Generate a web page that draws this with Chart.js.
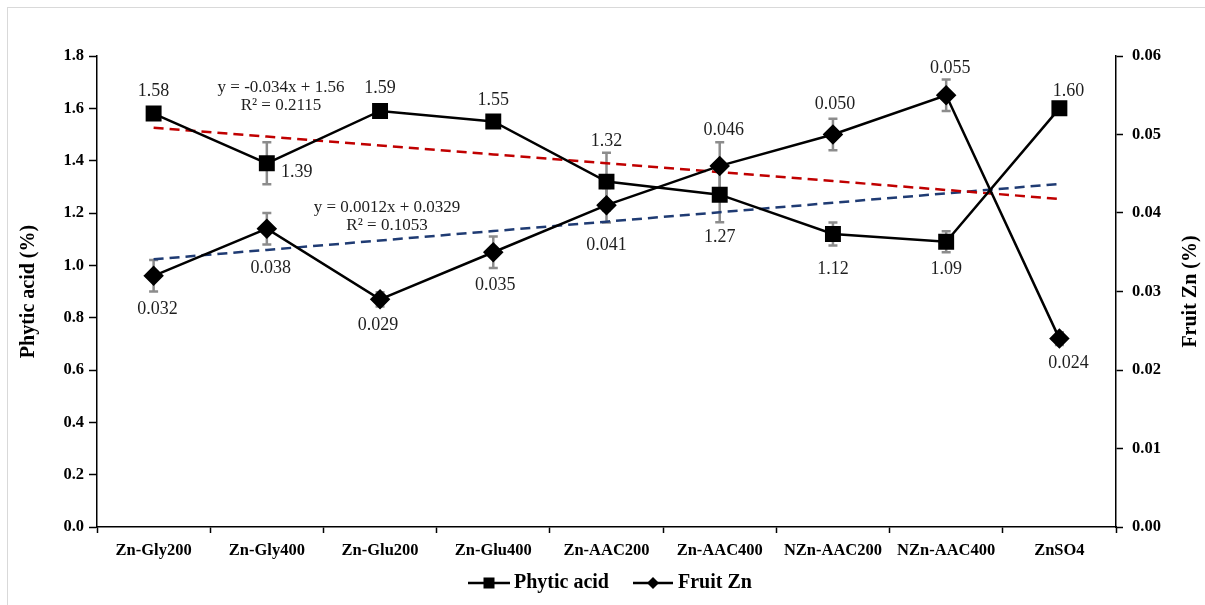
<!DOCTYPE html>
<html>
<head>
<meta charset="utf-8">
<script src="https://cdn.jsdelivr.net/npm/chart.js@4.4.1/dist/chart.umd.min.js"></script>
<style>
  html, body { margin: 0; padding: 0; background: #fff; }
  #wrap { position: relative; width: 1205px; height: 605px; }
</style>
</head>
<body>
<div id="wrap"><canvas id="c" width="1205" height="605"></canvas></div>
<script>
// Treatments on the category axis
const treatments = ['Zn-Gly200', 'Zn-Gly400', 'Zn-Glu200', 'Zn-Glu400', 'Zn-AAC200', 'Zn-AAC400', 'NZn-AAC200', 'NZn-AAC400', 'ZnSO4'];

// Phytic acid (%) and its standard errors
const phyticAcid = [1.58, 1.39, 1.59, 1.55, 1.32, 1.27, 1.12, 1.09, 1.60];
const phyticErr  = [0.02, 0.08, 0.02, 0.012, 0.11, 0.105, 0.044, 0.04, 0.0];

// Fruit Zn (%) and its standard errors
const fruitZn    = [0.032, 0.038, 0.029, 0.035, 0.041, 0.046, 0.050, 0.055, 0.024];
const fruitZnErr = [0.002, 0.002, 0.0009, 0.002, 0.0022, 0.003, 0.002, 0.002, 0.0008];

// Linear trend lines (slope, intercept) as printed on the chart
const phyticTrend = [-0.034, 1.56];
const znTrend     = [0.0012, 0.0329];

// Axis tick ranges
const leftTicks  = { min: 0, max: 1.8, step: 0.2, digits: 1 };
const rightTicks = { min: 0, max: 0.06, step: 0.01, digits: 2 };

const SERIF = "'Liberation Serif', 'Times New Roman', serif";

const trendValues = (t) => treatments.map((_, i) => t[0] * (i + 1) + t[1]);

// Label placement (dx, dy in px from the point)
const phyticLabelPos = [[0,-22],[30,9],[0,-23],[0,-21],[0,-40],[0,43],[0,35],[0,27],[9,-17]];
const znLabelPos     = [[4,33],[4,40],[-2,26],[2,33],[0,40],[4,-36],[2,-30],[4,-27],[9,25]];

const errorBars = {
  id: 'errorBars',
  beforeDatasetsDraw(chart) {
    const ctx = chart.ctx;
    const sets = [[0, phyticAcid, phyticErr, 'y'], [1, fruitZn, fruitZnErr, 'y1']];
    ctx.save();
    ctx.strokeStyle = '#8c8c8c';
    ctx.lineWidth = 2.5;
    sets.forEach(([di, vals, errs, axis]) => {
      const meta = chart.getDatasetMeta(di);
      const sc = chart.scales[axis];
      meta.data.forEach((pt, i) => {
        if (!errs[i]) return;
        const yt = sc.getPixelForValue(vals[i] + errs[i]);
        const yb = sc.getPixelForValue(vals[i] - errs[i]);
        ctx.beginPath();
        ctx.moveTo(pt.x, yt); ctx.lineTo(pt.x, yb);
        ctx.moveTo(pt.x - 4.5, yt); ctx.lineTo(pt.x + 4.5, yt);
        ctx.moveTo(pt.x - 4.5, yb); ctx.lineTo(pt.x + 4.5, yb);
        ctx.stroke();
      });
    });
    ctx.restore();
  }
};

const annotations = {
  id: 'annotations',
  afterDraw(chart) {
    const ctx = chart.ctx;
    const area = chart.chartArea;
    ctx.save();
    // outer frame
    ctx.strokeStyle = '#d9d9d9';
    ctx.lineWidth = 1;
    ctx.strokeRect(7.5, 7.5, 1300, 700);

    // data labels
    ctx.fillStyle = '#1e1e1e';
    ctx.font = '18px ' + SERIF;
    ctx.textAlign = 'center';
    ctx.textBaseline = 'middle';
    const m0 = chart.getDatasetMeta(0).data;
    const m1 = chart.getDatasetMeta(1).data;
    phyticAcid.forEach((v, i) => {
      const p = m0[i];
      ctx.fillText(v.toFixed(2), p.x + phyticLabelPos[i][0], p.y + phyticLabelPos[i][1]);
    });
    fruitZn.forEach((v, i) => {
      const p = m1[i];
      ctx.fillText(v.toFixed(3), p.x + znLabelPos[i][0], p.y + znLabelPos[i][1]);
    });

    // trend equations
    ctx.font = '17px ' + SERIF;
    ctx.fillText('y = ' + phyticTrend[0] + 'x + ' + phyticTrend[1].toFixed(2), 281, 88);
    ctx.fillText('R\u00B2 = 0.2115', 281, 106);
    ctx.fillText('y = ' + znTrend[0] + 'x + ' + znTrend[1], 387, 208);
    ctx.fillText('R\u00B2 = 0.1053', 387, 226);

    // axis titles
    ctx.fillStyle = '#000';
    ctx.font = 'bold 20px ' + SERIF;
    const cy = (area.top + area.bottom) / 2;
    ctx.save();
    ctx.translate(29, cy);
    ctx.rotate(-Math.PI / 2);
    ctx.fillText('Phytic acid (%)', 0, 0);
    ctx.restore();
    ctx.save();
    ctx.translate(1191, cy);
    ctx.rotate(-Math.PI / 2);
    ctx.fillText('Fruit Zn (%)', 0, 0);
    ctx.restore();

    // legend
    const ly = 583;
    ctx.textAlign = 'left';
    ctx.strokeStyle = '#000';
    ctx.lineWidth = 2.5;
    ctx.beginPath(); ctx.moveTo(468, ly); ctx.lineTo(510, ly); ctx.stroke();
    ctx.fillRect(483.5, ly - 5.5, 11, 11);
    ctx.fillText('Phytic acid', 514, ly);
    ctx.beginPath(); ctx.moveTo(633, ly); ctx.lineTo(673, ly); ctx.stroke();
    ctx.beginPath();
    ctx.moveTo(653, ly - 6); ctx.lineTo(659, ly); ctx.lineTo(653, ly + 6); ctx.lineTo(647, ly);
    ctx.closePath(); ctx.fill();
    ctx.fillText('Fruit Zn', 678, ly);
    ctx.restore();
  }
};

const tickFont = { family: SERIF, size: 16.5, weight: 'bold' };

new Chart(document.getElementById('c'), {
  type: 'line',
  data: {
    labels: treatments,
    datasets: [
      {
        label: 'Phytic acid', data: phyticAcid, yAxisID: 'y', order: 1,
        borderColor: '#000', backgroundColor: '#000', borderWidth: 2.5,
        pointStyle: 'rect', pointRadius: 9.5, pointHoverRadius: 9.5, tension: 0
      },
      {
        label: 'Fruit Zn', data: fruitZn, yAxisID: 'y1', order: 0,
        borderColor: '#000', backgroundColor: '#000', borderWidth: 2.5,
        pointStyle: 'rectRot', pointRadius: 8.5, pointHoverRadius: 8.5, tension: 0
      },
      {
        label: 'Phytic acid trend', data: trendValues(phyticTrend), yAxisID: 'y', order: 2,
        borderColor: '#c00000', borderWidth: 2.5, borderDash: [10, 6],
        pointRadius: 0, tension: 0
      },
      {
        label: 'Fruit Zn trend', data: trendValues(znTrend), yAxisID: 'y1', order: 3,
        borderColor: '#1f3b73', borderWidth: 2.5, borderDash: [10, 6],
        pointRadius: 0, tension: 0
      }
    ]
  },
  options: {
    responsive: false,
    animation: false,
    events: [],
    layout: { padding: { top: 56, left: 0, right: 0, bottom: 0 } },
    plugins: { legend: { display: false }, tooltip: { enabled: false } },
    scales: {
      x: {
        offset: true,
        grid: { offset: true, drawOnChartArea: false, tickLength: 6, tickColor: '#000', tickWidth: 1.5 },
        border: { color: '#000', width: 1.5 },
        ticks: { font: tickFont, color: '#000', autoSkip: false, maxRotation: 0, minRotation: 0, padding: 8 },
        afterFit(s) { s.height = 78; }
      },
      y: {
        position: 'left', min: leftTicks.min, max: leftTicks.max,
        grid: { drawOnChartArea: false, tickLength: 8, tickColor: '#000', tickWidth: 1.5 },
        border: { color: '#000', width: 1.5 },
        ticks: { stepSize: leftTicks.step, font: tickFont, color: '#000', padding: 5,
                 callback: (v) => Number(v).toFixed(leftTicks.digits) },
        afterFit(s) { s.width = 97; }
      },
      y1: {
        position: 'right', min: rightTicks.min, max: rightTicks.max,
        grid: { drawOnChartArea: false, tickLength: 7, tickColor: '#000', tickWidth: 1.5 },
        border: { color: '#000', width: 1.5 },
        ticks: { stepSize: rightTicks.step, font: tickFont, color: '#000', padding: 9,
                 callback: (v) => Number(v).toFixed(rightTicks.digits) },
        afterFit(s) { s.width = 89; }
      }
    }
  },
  plugins: [errorBars, annotations]
});
</script>
</body>
</html>
